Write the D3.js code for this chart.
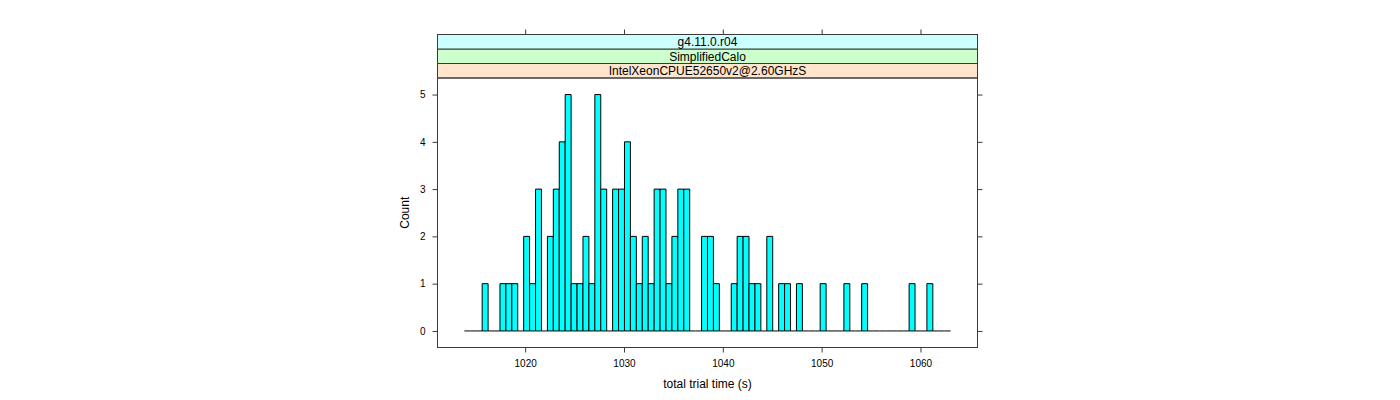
<!DOCTYPE html>
<html>
<head>
<meta charset="utf-8">
<script src="https://cdn.jsdelivr.net/npm/d3@7"></script>
<style>
  html, body { margin: 0; padding: 0; background: #fff; }
  svg { display: block; font-family: "Liberation Sans", Arial, Helvetica, sans-serif; }
</style>
</head>
<body>
<svg id="chart" width="1400" height="400"></svg>
<script>
// ---- data ----
const stripLabels = ["IntelXeonCPUE52650v2@2.60GHzS", "SimplifiedCalo", "g4.11.0.r04"]; // bottom -> top
const stripColors = ["#ffe5cc", "#ccffcc", "#ccffff"];
const breakStart = 1013.85;   // first histogram break (s)
const binWidth = 0.6;         // histogram bin width (s)
const counts = [
  0,0,0,1,0,0,1,1,1,0,
  2,1,3,0,2,3,4,5,1,1,
  2,1,5,3,0,3,3,4,2,1,
  2,1,3,3,1,2,3,3,0,0,
  2,2,1,0,0,1,2,2,1,1,
  0,2,0,1,1,0,1,0,0,0,
  1,0,0,0,1,0,0,1,0,0,
  0,0,0,0,0,1,0,0,1,0,
  0,0
];
const xTicks = [1020, 1030, 1040, 1050, 1060];
const yTicks = [0, 1, 2, 3, 4, 5];
const xDomain = [1011.13, 1065.77];
const yDomain = [-0.35, 5.35];
const xLabel = "total trial time (s)";
const yLabel = "Count";

// ---- layout ----
const panel = { left: 437.5, right: 977.5, top: 78, bottom: 347.5 };
const stripH = 14.5;
const tickLen = 5;
const lineCol = "#3a3a3a";

const svg = d3.select("#chart");
const x = d3.scaleLinear().domain(xDomain).range([panel.left, panel.right]);
const y = d3.scaleLinear().domain(yDomain).range([panel.bottom, panel.top]);

// bars (including empty bins drawn as flat lines)
const bins = counts.map((c, i) => ({ x0: breakStart + i * binWidth, x1: breakStart + (i + 1) * binWidth, n: c }));
svg.append("g").selectAll("path").data(bins).join("path")
  .attr("d", d => {
    const p = d3.path();
    const X0 = x(d.x0), X1 = x(d.x1), Y0 = y(0), Y1 = y(d.n);
    p.moveTo(X0, Y0); p.lineTo(X0, Y1); p.lineTo(X1, Y1); p.lineTo(X1, Y0);
    if (d.n > 0) p.closePath();
    return p.toString();
  })
  .attr("fill", d => d.n > 0 ? "#00ffff" : "none")
  .attr("stroke", "#000")
  .attr("stroke-width", 1);

// strips
const stripTop = panel.top - stripH * stripLabels.length;
stripLabels.forEach((lab, i) => {
  const yb = panel.top - stripH * i;
  const yt = yb - stripH;
  svg.append("rect").attr("x", panel.left).attr("y", yt)
    .attr("width", panel.right - panel.left).attr("height", stripH)
    .attr("fill", stripColors[i]).attr("stroke", lineCol).attr("stroke-width", 1);
  svg.append("text").attr("x", (panel.left + panel.right) / 2).attr("y", (yt + yb) / 2)
    .attr("dy", "0.36em").attr("text-anchor", "middle")
    .attr("font-size", 12).attr("fill", "#000").text(lab);
});

// panel box
svg.append("rect").attr("x", panel.left).attr("y", panel.top)
  .attr("width", panel.right - panel.left).attr("height", panel.bottom - panel.top)
  .attr("fill", "none").attr("stroke", lineCol).attr("stroke-width", 1);

// bottom axis
const bottomAxis = d3.axisBottom(x).tickValues(xTicks).tickSize(tickLen).tickPadding(3).tickFormat(d3.format("d"));
const gB = svg.append("g").attr("transform", `translate(0,${panel.bottom})`).call(bottomAxis);
// top axis (ticks only, above strips)
const topAxis = d3.axisTop(x).tickValues(xTicks).tickSize(tickLen).tickFormat("");
const gT = svg.append("g").attr("transform", `translate(0,${stripTop})`).call(topAxis);
// left axis
const leftAxis = d3.axisLeft(y).tickValues(yTicks).tickSize(tickLen).tickPadding(7).tickFormat(d3.format("d"));
const gL = svg.append("g").attr("transform", `translate(${panel.left},0)`).call(leftAxis);
// right axis (ticks only)
const rightAxis = d3.axisRight(y).tickValues(yTicks).tickSize(tickLen).tickFormat("");
const gR = svg.append("g").attr("transform", `translate(${panel.right},0)`).call(rightAxis);

[gB, gT, gL, gR].forEach(g => {
  g.select(".domain").remove();
  g.selectAll(".tick line").attr("stroke", lineCol);
  g.selectAll(".tick text").attr("font-size", 10).attr("fill", "#000")
    .attr("font-family", "'Liberation Sans', Arial, Helvetica, sans-serif");
});
gB.selectAll(".tick text").attr("dy", null).attr("y", 0).attr("transform", "translate(0,19.5)");

// axis titles
svg.append("text").attr("x", (panel.left + panel.right) / 2).attr("y", 387.5)
  .attr("text-anchor", "middle").attr("font-size", 12).attr("fill", "#000").text(xLabel);
svg.append("text").attr("transform", `translate(409,${(panel.top + panel.bottom) / 2}) rotate(-90)`)
  .attr("text-anchor", "middle").attr("font-size", 12).attr("fill", "#000").text(yLabel);
</script>
</body>
</html>
